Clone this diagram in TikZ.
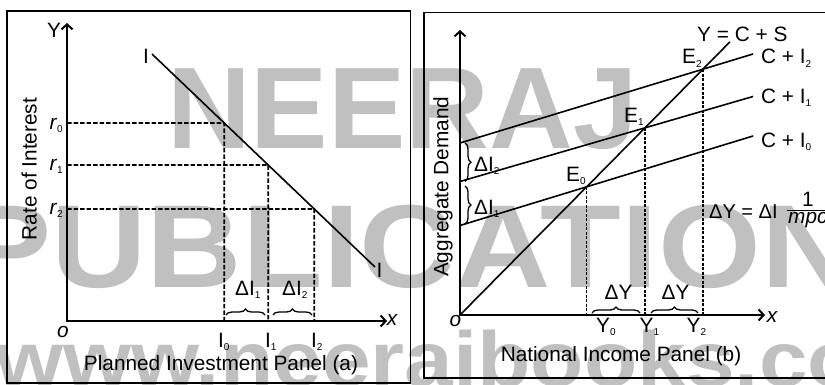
\documentclass[tikz,border=0pt]{standalone}
\usepackage{fontspec}
\setmainfont{Liberation Sans}
\usetikzlibrary{arrows.meta,decorations.pathreplacing}
\definecolor{wm}{RGB}{192,192,192}
\newcommand\sbs[1]{\raisebox{-0.3ex}{\fontsize{10}{10}\selectfont #1}}
\begin{document}
\begin{tikzpicture}[x=1pt,y=1pt,
  lbl/.style={inner sep=0pt, font=\fontsize{20.8}{22}\selectfont},
  ilbl/.style={inner sep=0pt, font=\fontsize{20.8}{22}\selectfont\itshape},
  wmk/.style={inner sep=0pt, text=wm},
  frame/.style={line width=1.6pt},
  axis/.style={line width=2pt, {Straight Barb[length=5pt,width=11pt]}-{Straight Barb[length=5pt,width=11pt]}},
  curve/.style={line width=1.6pt},
  guide/.style={line width=1.8pt, dash pattern=on 4.5pt off 2pt},
  guideb/.style={line width=1.3pt, dash pattern=on 3pt off 1.5pt},
  brc/.style={decorate, decoration={brace, amplitude=6pt}, line width=1.3pt}
]
\useasboundingbox (0,0) rectangle (825,384);
\clip (0,0) rectangle (825,384);
\fill[white] (0,0) rectangle (825,384);

% watermark
\node[wmk, font=\fontsize{116}{116}\selectfont\bfseries, anchor=base west] (wm1) at (167,236) {NEERAJ};
\node[wmk, font=\fontsize{118}{118}\selectfont\bfseries, anchor=base, xscale=1.12] (wm2) at (410,97) {PUBLICATION};
\node[wmk, font=\fontsize{78}{78}\selectfont\bfseries, anchor=base west, xscale=1.12] (wm3) at (-5,-2) {www.neerajbooks.com};

% frames
\draw[frame] (7,1) rectangle (410.5,373);
\draw[frame] (424,6.3) rectangle (835,371.3);

% ---------- left panel ----------
\coordinate (O1) at (67,63);
\coordinate (Y1top) at (67,361);
\coordinate (X1end) at (387,63);
\draw[axis] (Y1top) -- (O1) -- (X1end);

\coordinate (Ia) at (152,330);
\coordinate (Ib) at (375,117);
\draw[curve] (Ia) -- (Ib);

\coordinate (R0) at (67,261);
\coordinate (R1) at (67,219);
\coordinate (R2) at (67,175);
\coordinate (P0) at (intersection of Ia--Ib and R0--{(400,261)});
\coordinate (P1) at (intersection of Ia--Ib and R1--{(400,219)});
\coordinate (P2) at (intersection of Ia--Ib and R2--{(400,175)});
\draw[guide] (R0) -- (P0) -- (P0 |- O1);
\draw[guide] (R1) -- (P1) -- (P1 |- O1);
\draw[guide] (R2) -- (P2) -- (P2 |- O1);

\node[lbl, anchor=base east] (r0) at (63,255) {\textit{r}\sbs{0}};
\node[lbl, anchor=base east] (r1) at (63,213.5) {\textit{r}\sbs{1}};
\node[lbl, anchor=base east] (r2) at (63,170) {\textit{r}\sbs{2}};

\node[lbl, anchor=base] (IlabA) at (146,321) {I};
\node[lbl, anchor=base] (IlabB) at (379.5,107) {I};

\node[lbl, anchor=base west] (I0) at (218,37) {I\sbs{0}};
\node[lbl, anchor=base west] (I1) at (265,37) {I\sbs{1}};
\node[lbl, anchor=base west] (I2) at (311,37) {I\sbs{2}};

\draw[brc] (226,69) -- (265,69);
\draw[brc] (273,69) -- (312,69);
\node[lbl, anchor=base west] (dI1) at (235,89) {ΔI\sbs{1}};
\node[lbl, anchor=base west] (dI2) at (282,89) {ΔI\sbs{2}};

\node[lbl, anchor=base west] (Ylab) at (47,346.7) {Y};
\node[ilbl] (xlab1) at (392,64) {x};
\node[ilbl] (olab1) at (63,52) {o};

\node[lbl, rotate=90, anchor=base] (rate) at (36.7,215) {Rate of Interest};
\node[lbl, anchor=base] (titleA) at (221,13.7) {Planned Investment Panel (a)};

% ---------- right panel ----------
\coordinate (O2) at (460,69);
\coordinate (Y2top) at (460,354);
\coordinate (X2end) at (765,69);
\draw[axis] (Y2top) -- (O2) -- (X2end);

\coordinate (S45) at (730,342.2);
\draw[curve] (O2) -- (S45);

\coordinate (A0) at (460,158.5); \coordinate (B0) at (753,248);
\coordinate (A1) at (460,202.5); \coordinate (B1) at (753,287.5);
\coordinate (A2) at (460,241);   \coordinate (B2) at (753,330);
\draw[curve] (A0) -- (B0);
\draw[curve] (A1) -- (B1);
\draw[curve] (A2) -- (B2);

\coordinate (E0) at (intersection of O2--S45 and A0--B0);
\coordinate (E1) at (intersection of O2--S45 and A1--B1);
\coordinate (E2) at (intersection of O2--S45 and A2--B2);
\draw[guideb] (E0) -- (E0 |- O2);
\draw[guideb] (E1) -- (E1 |- O2);
\draw[guideb] (E2) -- (E2 |- O2);

\node[lbl, anchor=base west] (E0lab) at (566,203) {E\sbs{0}};
\node[lbl, anchor=base west] (E1lab) at (624,261.5) {E\sbs{1}};
\node[lbl, anchor=base west] (E2lab) at (682,320) {E\sbs{2}};

\node[lbl, anchor=base west] (YCS) at (697,342) {Y = C + S};
\node[lbl, anchor=base west] (CI2) at (761,320) {C + I\sbs{2}};
\node[lbl, anchor=base west] (CI1) at (761,280.5) {C + I\sbs{1}};
\node[lbl, anchor=base west] (CI0) at (761,236.5) {C + I\sbs{0}};

\draw[brc] (465,241) -- (465,202.5);
\draw[brc] (465,198) -- (465,160);
\node[lbl, anchor=base west] (dIb2) at (474,213) {ΔI\sbs{2}};
\node[lbl, anchor=base west] (dIb1) at (474,170) {ΔI\sbs{1}};

\draw[brc] (592,71) -- (640,71);
\draw[brc] (651,71) -- (698,71);
\node[lbl, anchor=base] (dY1) at (618.5,84.7) {ΔY};
\node[lbl, anchor=base] (dY2) at (675.5,84.7) {ΔY};

\node[lbl, anchor=base west] (Y0) at (596,51.7) {Y\sbs{0}};
\node[lbl, anchor=base west] (Y1) at (639.5,51.7) {Y\sbs{1}};
\node[lbl, anchor=base west] (Y2) at (686.5,51.7) {Y\sbs{2}};

\node[ilbl] (xlab2) at (772,67) {x};
\node[ilbl] (olab2) at (455.5,62.5) {o};

\node[lbl, anchor=base west, font=\fontsize{20}{22}\selectfont] (mult) at (709,165.7) {ΔY = ΔI};
\node[lbl, anchor=base] (one) at (808,177.3) {1};
\node[ilbl, anchor=base west] (mpc) at (788,160.3) {mpc};
\draw[line width=1.2pt] (787,173.3) -- (830,173.3);

\node[lbl, rotate=90, anchor=base] (agg) at (448.3,197.3) {Aggregate Demand};
\node[lbl, anchor=base] (titleB) at (621,22.7) {National Income Panel (b)};
\end{tikzpicture}
\end{document}
